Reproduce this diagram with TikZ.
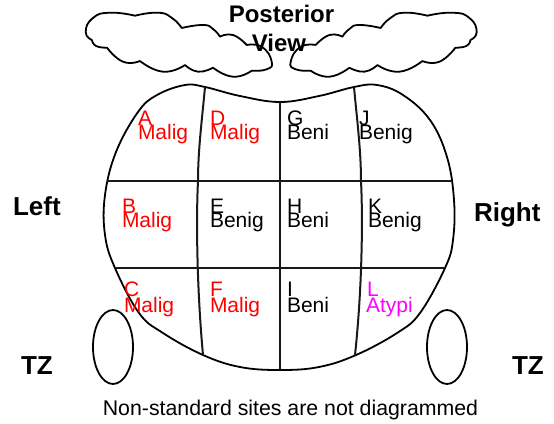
\documentclass[tikz,border=0pt]{standalone}
\usepackage{fontspec}
\setmainfont{Liberation Sans}
\definecolor{atyp}{RGB}{255,0,255}
\tikzset{
  cell/.style={anchor=base west,inner sep=0pt,outer sep=0pt,font=\fontsize{21}{22}\selectfont},
  hot/.style={cell,text=red},
  cold/.style={cell,text=black},
  odd/.style={cell,text=atyp},
  bigl/.style={anchor=base west,inner sep=0pt,outer sep=0pt,font=\fontsize{26}{28}\selectfont\bfseries},
  headl/.style={anchor=base,inner sep=0pt,outer sep=0pt,font=\fontsize{24}{28}\selectfont\bfseries},
  ink/.style={draw=black,line width=1.8pt,line join=round,line cap=round},
  grid/.style={draw=black!90,line width=2pt}
}
\newcommand{\puff}{%
  plot[smooth,tension=0.9] coordinates {(92,40)(85.7,32)(93,18)(110,12.7)(135,15.7)}
  plot[smooth,tension=0.9] coordinates {(135,15.7)(158,12.7)(172,18)(181.7,28)}
  plot[smooth,tension=0.9] coordinates {(181.7,28)(203,25)(213,29)(220,36.7)}
  plot[smooth,tension=0.9] coordinates {(220,36.7)(233,35)(246.7,45)}
  plot[smooth,tension=0.9] coordinates {(246.7,45)(262,47)(271.7,61.7)(266.7,69.3)(251.7,70.7)}
  plot[smooth,tension=0.9] coordinates {(251.7,70.7)(233,76.7)(213,67.7)}
  plot[smooth,tension=0.9] coordinates {(213,67.7)(198,71.7)(185,65)}
  plot[smooth,tension=0.9] coordinates {(185,65)(163,71.7)(140,61)}
  plot[smooth,tension=0.9] coordinates {(140,61)(123,61.7)(107,47.7)}
  plot[smooth,tension=0.9] coordinates {(107,47.7)(96,46)(92,40)}
}
\begin{document}
\begin{tikzpicture}[x=1pt,y=-1pt]
\useasboundingbox (0,0) rectangle (554,423);
% clouds
\draw[ink] \puff;
\begin{scope}[xshift=562.4pt,xscale=-1]
\draw[ink] \puff;
\end{scope}
% body
\draw[ink] plot[smooth cycle,tension=0.65] coordinates {
  (185,85)(205,87)(240,96)(280,102)(319,96)(354,87)(377,85)
  (403,95)(430,120)(447,157)(454,200)(453,240)(445,268)
  (420,313)(397,333)(356,355)(319,367)(280,370)(240,367)(203,355)
  (163,333)(139,313)(115,268)(105,235)(105,195)(116,152)
  (138,112)(157,95)};
% cell lines
\draw[grid] (107,181) -- (452,181);
\draw[grid] (115,268) -- (445,268);
\draw[grid] (279.5,102) -- (279.5,370);
\draw[grid] (205,87) .. controls (202,120) and (198,150) .. (198,181) .. controls (196,220) and (197,290) .. (203,355);
\draw[grid] (354,87) .. controls (357,120) and (361,150) .. (361,181) .. controls (363,220) and (362,290) .. (355,355);
% TZ lobes
\draw[ink] (113,347) ellipse [x radius=20,y radius=37];
\draw[ink] (447,347) ellipse [x radius=20,y radius=37];
% labels
\node[headl] (p1) at (281.5,23) {Posterior};
\node[headl] (p2) at (279,51) {View};
\node[bigl] (lf) at (13,215) {Left};
\node[bigl] (rt) at (474,221) {Right};
\node[bigl] (tz1) at (21,374) {TZ};
\node[bigl] (tz2) at (512,374) {TZ};
\node[cell,anchor=base,font=\fontsize{21.3}{22}\selectfont] (cap) at (290.5,415) {Non-standard sites are not diagrammed};
% cell texts
\node[hot] (a) at (138,125) {A}; \node[hot] (a2) at (138,139) {Malig};
\node[hot] (d) at (210,125) {D}; \node[hot] (d2) at (210,139) {Malig};
\node[cold] (g) at (287,125) {G}; \node[cold] (g2) at (287,139) {Beni};
\node[cold] (j) at (359,125) {J}; \node[cold] (j2) at (359,139) {Benig};
\node[hot] (b) at (122,213) {B}; \node[hot] (b2) at (122,227) {Malig};
\node[cold] (e) at (210,213) {E}; \node[cold] (e2) at (210,227) {Benig};
\node[cold] (h) at (287,213) {H}; \node[cold] (h2) at (287,227) {Beni};
\node[cold] (k) at (368,213) {K}; \node[cold] (k2) at (368,227) {Benig};
\node[hot] (c) at (124,296) {C}; \node[hot] (c2) at (124,312) {Malig};
\node[hot] (f) at (210,296) {F}; \node[hot] (f2) at (210,312) {Malig};
\node[cold] (i) at (287,296) {I}; \node[cold] (i2) at (287,312) {Beni};
\node[odd] (l) at (367,296) {L}; \node[odd] (l2) at (366,312) {Atypi};
\end{tikzpicture}
\end{document}
